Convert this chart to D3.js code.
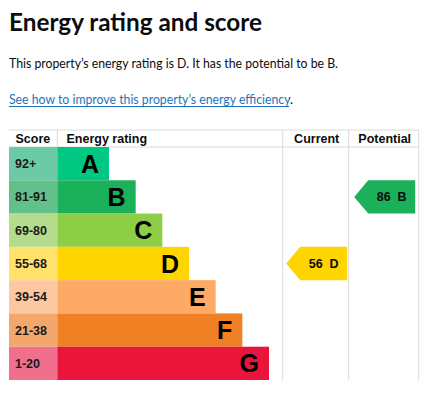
<!DOCTYPE html>
<html>
<head>
<meta charset="utf-8">
<script src="https://cdn.jsdelivr.net/npm/d3@7"></script>
<style>
  body { margin: 0; background: #fff; }
  svg { display: block; }
</style>
</head>
<body>
<svg id="chart"></svg>
<script>
// rating bands, top (best) to bottom
const bands = ['A', 'B', 'C', 'D', 'E', 'F', 'G'];
const scoreRanges = ['92+', '81-91', '69-80', '55-68', '39-54', '21-38', '1-20'];
const barColors = ['#00c781', '#1bb05a', '#8dce46', '#ffd500', '#fcaa65', '#ef8023', '#e9153b'];
const scoreColors = ['#6ccaa6', '#62c18a', '#b5dc8c', '#ffe16b', '#fdc7a0', '#f3a76c', '#f06f8c'];
const columns = ['Current', 'Potential'];
const ratings = [56, 86];
const ratingBands = ['D', 'B'];

const width = 436, height = 404;
const svg = d3.select('#chart').attr('width', width).attr('height', height);

// page text (the original font is narrower, so squeeze to the same widths)
svg.append('text')
  .attr('x', 9).attr('y', 31)
  .attr('textLength', 253).attr('lengthAdjust', 'spacingAndGlyphs')
  .style('font-family', 'Lato, sans-serif').style('font-weight', 700)
  .style('font-size', '24px').style('fill', '#0b0c0c')
  .text('Energy rating and score');

svg.append('text')
  .attr('x', 9).attr('y', 68)
  .attr('textLength', 329).attr('lengthAdjust', 'spacingAndGlyphs')
  .style('font-family', 'Lato, sans-serif').style('font-size', '13px')
  .style('fill', '#0b0c0c')
  .text('This property\u2019s energy rating is D. It has the potential to be B.');

// link line: blue up to the full stop, which stays black
const linkX0 = 9, linkX1 = 293, linkEnd = 289;
const grad = svg.append('defs').append('linearGradient')
  .attr('id', 'linkFill').attr('gradientUnits', 'userSpaceOnUse')
  .attr('x1', linkX0).attr('x2', linkX1).attr('y1', 0).attr('y2', 0);
const cut = (linkEnd - linkX0) / (linkX1 - linkX0);
grad.append('stop').attr('offset', cut).attr('stop-color', '#1d70b8');
grad.append('stop').attr('offset', cut).attr('stop-color', '#0b0c0c');
svg.append('text')
  .attr('x', linkX0).attr('y', 104)
  .attr('textLength', linkX1 - linkX0).attr('lengthAdjust', 'spacingAndGlyphs')
  .style('font-family', 'Lato, sans-serif').style('font-size', '13px')
  .style('fill', 'url(#linkFill)')
  .text('See how to improve this property\u2019s energy efficiency.');
svg.append('line')
  .attr('x1', linkX0).attr('x2', linkEnd).attr('y1', 106.5).attr('y2', 106.5)
  .attr('stroke', '#1d70b8').attr('stroke-width', 1);

// layout scales
const tableTop = 130, headTop = 147, tableBottom = 380;
const y = d3.scaleBand().domain(bands).range([headTop, tableBottom]);
const scoreX0 = 9, barX0 = 57.3;
const barEnd = d3.scaleLinear().domain([0, bands.length - 1]).range([109, 269]);
const colX = d3.scaleBand().domain(columns).range([282.7, 418.7]);

const grid = svg.append('g').attr('stroke', '#dadada').attr('stroke-width', 1);
grid.append('line').attr('x1', scoreX0).attr('x2', 418.7).attr('y1', tableTop).attr('y2', tableTop);
grid.append('line').attr('x1', scoreX0).attr('x2', 418.7).attr('y1', headTop).attr('y2', headTop);
grid.append('line').attr('x1', barX0).attr('x2', barX0).attr('y1', tableTop).attr('y2', headTop);
grid.selectAll('.v').data([282.7, 348.7, 418.7]).enter().append('line')
  .attr('x1', d => d).attr('x2', d => d).attr('y1', tableTop).attr('y2', tableBottom);

const head = svg.append('g')
  .style('font-family', '"Liberation Sans", Arial, sans-serif')
  .style('font-weight', 700).style('font-size', '12.5px').style('fill', '#0b0c0c');
head.append('text').attr('x', 15.5).attr('y', 143).text('Score');
head.append('text').attr('x', 66.5).attr('y', 143).text('Energy rating');
head.selectAll('.c').data(columns).enter().append('text')
  .attr('x', d => colX(d) + colX.bandwidth() / 2).attr('y', 143)
  .attr('text-anchor', 'middle').text(d => d);

// rows
const row = svg.append('g').selectAll('g').data(bands).enter().append('g');
row.append('rect')
  .attr('x', scoreX0).attr('y', d => y(d))
  .attr('width', barX0 - scoreX0).attr('height', y.bandwidth())
  .attr('fill', (d, i) => scoreColors[i]);
row.append('rect')
  .attr('x', barX0).attr('y', d => y(d))
  .attr('width', (d, i) => barEnd(i) - barX0).attr('height', y.bandwidth())
  .attr('fill', (d, i) => barColors[i]);
row.append('text')
  .attr('x', 15).attr('y', d => y(d) + y.bandwidth() / 2 + 4.5)
  .style('font-family', '"Liberation Sans", Arial, sans-serif')
  .style('font-weight', 700).style('font-size', '12.5px').style('fill', '#1a1a1a')
  .text((d, i) => scoreRanges[i]);
row.append('text')
  .attr('x', (d, i) => barEnd(i) - 10).attr('y', d => y(d) + y.bandwidth() / 2 + 9)
  .attr('text-anchor', 'end')
  .style('font-family', '"Liberation Sans", Arial, sans-serif')
  .style('font-weight', 700).style('font-size', '25px').style('fill', '#000')
  .text(d => d);

// current / potential arrows
const tip = 14, pad = 3.5;
const arrows = svg.append('g').selectAll('g').data(columns).enter().append('g');
arrows.append('path')
  .attr('d', (c, i) => {
    const x0 = colX(c) + pad, x1 = colX(c) + colX.bandwidth() - pad;
    const b = ratingBands[i], y0 = y(b), y1 = y(b) + y.bandwidth();
    return `M${x0},${(y0 + y1) / 2}L${x0 + tip},${y0}L${x1},${y0}L${x1},${y1}L${x0 + tip},${y1}Z`;
  })
  .attr('fill', (c, i) => barColors[bands.indexOf(ratingBands[i])]);
arrows.append('text')
  .attr('x', c => colX(c) + pad + tip + (colX.bandwidth() - 2 * pad - tip) / 2)
  .attr('y', (c, i) => y(ratingBands[i]) + y.bandwidth() / 2 + 4.5)
  .attr('text-anchor', 'middle')
  .style('font-family', '"Liberation Sans", Arial, sans-serif')
  .style('font-weight', 700).style('font-size', '12.5px').style('fill', '#0b0c0c')
  .style('white-space', 'pre')
  .text((c, i) => `${ratings[i]}  ${ratingBands[i]}`);
</script>
</body>
</html>
